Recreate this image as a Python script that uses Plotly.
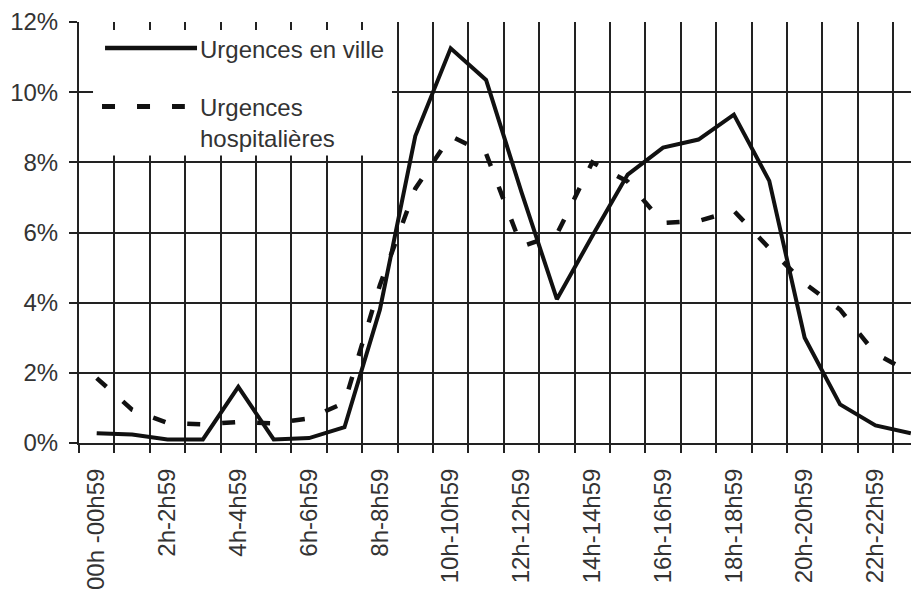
import plotly.graph_objects as go

hours = list(range(24))
tick_positions = [0, 2, 4, 6, 8, 10, 12, 14, 16, 18, 20, 22]
tick_labels = ["00h -00h59", "2h-2h59", "4h-4h59", "6h-6h59", "8h-8h59", "10h-10h59",
               "12h-12h59", "14h-14h59", "16h-16h59", "18h-18h59", "20h-20h59", "22h-22h59"]
boundaries = [h - 0.5 for h in range(25)]

urgences_ville = [0.28, 0.24, 0.1, 0.1, 1.6, 0.1, 0.14, 0.45, 3.8, 8.75, 11.25, 10.35,
                  7.15, 4.1, 5.9, 7.65, 8.42, 8.65, 9.36, 7.47, 3.0, 1.1, 0.5, 0.28]
urgences_hosp = [1.85, 0.95, 0.57, 0.53, 0.6, 0.56, 0.7, 1.15, 4.5, 7.25, 8.75, 8.25,
                 5.6, 5.95, 8.0, 7.45, 6.27, 6.33, 6.62, 5.55, 4.55, 3.8, 2.55, 2.0]
y_ticks = [0, 2, 4, 6, 8, 10, 12]
y_tick_labels = ["0%", "2%", "4%", "6%", "8%", "10%", "12%"]

FONT = "Liberation Sans, Arial, sans-serif"
TXT = "#333333"
GRID = "#222222"

fig = go.Figure()
fig.add_trace(go.Scatter(x=hours, y=urgences_hosp, mode="lines", name="Urgences hospitalières",
                         line=dict(color="#111111", width=4.5, dash="13px,22px")))
fig.add_trace(go.Scatter(x=hours, y=urgences_ville, mode="lines", name="Urgences en ville",
                         line=dict(color="#111111", width=4)))

# the page body has an 8px margin, so the figure is sized/margined to land where the reference is
fig.update_layout(
    width=911, height=582,
    margin=dict(l=71, r=0, t=14, b=145),
    paper_bgcolor="white", plot_bgcolor="white",
    showlegend=False,
    font=dict(family=FONT, size=24, color=TXT),
    xaxis=dict(
        range=[-0.5, 23.23],
        tickmode="array", tickvals=tick_positions, ticktext=tick_labels,
        tickangle=-90, ticks="", showgrid=False, zeroline=False,
        showline=True, linecolor=GRID, linewidth=2,
        ticklabelstandoff=14,
        minor=dict(tickmode="array", tickvals=boundaries, ticks="outside", ticklen=8,
                   tickwidth=2, tickcolor=GRID, showgrid=True, gridcolor=GRID, gridwidth=2),
    ),
    yaxis=dict(
        range=[0, 12], tickmode="array", tickvals=y_ticks, ticktext=y_tick_labels,
        ticks="outside", ticklen=8, tickwidth=2, tickcolor=GRID,
        showgrid=True, gridcolor=GRID, gridwidth=2, zeroline=False,
        showline=True, linecolor=GRID, linewidth=2,
        ticklabelstandoff=6,
    ),
)

# legend box drawn manually (white panel over the grid)
fig.add_shape(type="rect", xref="paper", yref="paper", x0=0.0167, x1=0.3726, y0=0.683, y1=0.981,
              fillcolor="white", line=dict(width=0), layer="above")
fig.add_shape(type="line", xref="paper", yref="paper", x0=0.031, x1=0.1405, y0=0.9385, y1=0.9385,
              line=dict(color="#111111", width=4.5), layer="above")
fig.add_shape(type="line", xref="paper", yref="paper", x0=0.0274, x1=0.126, y0=0.799, y1=0.799,
              line=dict(color="#111111", width=5, dash="13px,22px"), layer="above")
fig.add_annotation(xref="paper", yref="paper", x=0.142, y=0.934, text="Urgences en ville",
                   showarrow=False, xanchor="left", yanchor="middle", align="left",
                   font=dict(family=FONT, size=24, color=TXT))
fig.add_annotation(xref="paper", yref="paper", x=0.142, y=0.759, text="Urgences<br>hospitalières",
                   showarrow=False, xanchor="left", yanchor="middle", align="left",
                   font=dict(family=FONT, size=24, color=TXT))

fig.write_html("out.html")
